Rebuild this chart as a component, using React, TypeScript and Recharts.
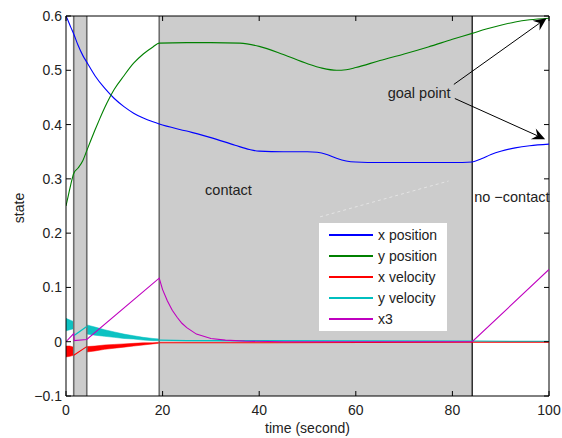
import {
  ComposedChart, Line, Area, XAxis, YAxis, ReferenceArea, ReferenceLine,
  ReferenceDot, Legend,
} from 'recharts'

const PLOT = { left: 66, right: 549, top: 16, bottom: 396 }
const FONT = '"Liberation Sans", Arial, Helvetica, sans-serif'

const xTicks = [0, 20, 40, 60, 80, 100]
const yTicks = [-0.1, 0, 0.1, 0.2, 0.3, 0.4, 0.5, 0.6]

// phase switch times (s)
const grayPhases = [[1.6, 4.3], [19.3, 84.1]]
const phaseEdges = [1.6, 4.3, 19.3]
const noContactStart = 84.1

const xPosition = [
  { t: 0, v: 0.6 }, { t: 0.5, v: 0.59 }, { t: 1, v: 0.579 }, { t: 1.6, v: 0.567 },
  { t: 2.5, v: 0.546 }, { t: 3.5, v: 0.527 }, { t: 4.3, v: 0.515 }, { t: 6, v: 0.49 },
  { t: 8, v: 0.467 }, { t: 10, v: 0.448 }, { t: 12, v: 0.433 }, { t: 14, v: 0.421 },
  { t: 16, v: 0.412 }, { t: 18, v: 0.405 }, { t: 19.3, v: 0.401 }, { t: 25, v: 0.388 },
  { t: 30, v: 0.376 }, { t: 35, v: 0.362 }, { t: 38, v: 0.354 }, { t: 40, v: 0.351 },
  { t: 45, v: 0.35 }, { t: 50, v: 0.35 }, { t: 52, v: 0.349 }, { t: 54, v: 0.345 },
  { t: 56, v: 0.338 }, { t: 58, v: 0.333 }, { t: 60, v: 0.331 }, { t: 65, v: 0.33 },
  { t: 70, v: 0.33 }, { t: 80, v: 0.33 }, { t: 84.1, v: 0.331 }, { t: 86, v: 0.337 },
  { t: 88, v: 0.345 }, { t: 90, v: 0.351 }, { t: 93, v: 0.357 }, { t: 96, v: 0.361 },
  { t: 100, v: 0.364 },
]

const yPosition = [
  { t: 0, v: 0.25 }, { t: 0.5, v: 0.27 }, { t: 1, v: 0.29 }, { t: 1.6, v: 0.31 },
  { t: 2.5, v: 0.32 }, { t: 3.5, v: 0.334 }, { t: 4.3, v: 0.352 }, { t: 5, v: 0.368 },
  { t: 6, v: 0.39 }, { t: 7, v: 0.411 }, { t: 8, v: 0.431 }, { t: 9, v: 0.449 },
  { t: 10, v: 0.465 }, { t: 12, v: 0.49 }, { t: 14, v: 0.513 }, { t: 16, v: 0.53 },
  { t: 18, v: 0.543 }, { t: 19.3, v: 0.55 }, { t: 25, v: 0.551 }, { t: 30, v: 0.551 },
  { t: 36, v: 0.55 }, { t: 40, v: 0.544 }, { t: 45, v: 0.529 }, { t: 50, v: 0.512 },
  { t: 53, v: 0.504 }, { t: 56, v: 0.5 }, { t: 58, v: 0.501 }, { t: 60, v: 0.505 },
  { t: 65, v: 0.518 }, { t: 70, v: 0.53 }, { t: 75, v: 0.543 }, { t: 80, v: 0.557 },
  { t: 84.1, v: 0.568 }, { t: 87, v: 0.576 }, { t: 90, v: 0.583 }, { t: 93, v: 0.589 },
  { t: 96, v: 0.593 }, { t: 100, v: 0.596 },
]

const xVelocity = [
  { t: 1.6, v: -0.025 }, { t: 4.3, v: -0.009 }, { t: 10, v: null },
  { t: 19.3, v: -0.002 }, { t: 40, v: -0.002 }, { t: 84.1, v: -0.001 }, { t: 100, v: -0.001 },
]
const xVelocityBand = [
  { t: 0, lo: -0.028, hi: -0.008 }, { t: 0.8, lo: -0.027, hi: -0.008 }, { t: 1.6, lo: -0.025, hi: -0.01 },
]
const xVelocityBand2 = [
  { t: 4.3, lo: -0.019, hi: -0.009 }, { t: 6, lo: -0.017, hi: -0.008 }, { t: 8, lo: -0.014, hi: -0.006 },
  { t: 10, lo: -0.012, hi: -0.005 }, { t: 12, lo: -0.01, hi: -0.004 }, { t: 14, lo: -0.008, hi: -0.003 },
  { t: 16, lo: -0.006, hi: -0.002 }, { t: 18, lo: -0.004, hi: -0.002 }, { t: 19.3, lo: -0.003, hi: -0.001 },
]

const yVelocity = [
  { t: 1.6, v: 0.011 }, { t: 4.3, v: 0.028 }, { t: 10, v: null },
  { t: 19.3, v: 0.003 }, { t: 25, v: 0.002 }, { t: 84.1, v: 0.001 }, { t: 100, v: 0.0005 },
]
const yVelocityBand = [
  { t: 0, lo: 0.02, hi: 0.043 }, { t: 0.8, lo: 0.022, hi: 0.04 }, { t: 1.6, lo: 0.024, hi: 0.037 },
]
const yVelocityBand2 = [
  { t: 4.3, lo: 0.014, hi: 0.031 }, { t: 6, lo: 0.012, hi: 0.027 }, { t: 8, lo: 0.01, hi: 0.022 },
  { t: 10, lo: 0.008, hi: 0.018 }, { t: 12, lo: 0.006, hi: 0.014 }, { t: 14, lo: 0.005, hi: 0.011 },
  { t: 16, lo: 0.003, hi: 0.008 }, { t: 18, lo: 0.002, hi: 0.006 }, { t: 19.3, lo: 0.002, hi: 0.005 },
]

const x3 = [
  { t: 0, v: 0 }, { t: 1.6, v: 0.015 }, { t: 1.7, v: 0.002 }, { t: 4.3, v: 0.004 },
  { t: 19.3, v: 0.117 }, { t: 20, v: 0.096 }, { t: 21, v: 0.075 }, { t: 22, v: 0.058 },
  { t: 23, v: 0.045 }, { t: 24, v: 0.034 }, { t: 25, v: 0.026 }, { t: 27, v: 0.014 },
  { t: 30, v: 0.006 }, { t: 33, v: 0.003 }, { t: 37, v: 0.001 }, { t: 45, v: 0 },
  { t: 84.1, v: 0 }, { t: 100, v: 0.133 },
]

const series = [
  { name: 'x position', color: '#0000ff' },
  { name: 'y position', color: '#008000' },
  { name: 'x velocity', color: '#ff0000' },
  { name: 'y velocity', color: '#00bfbf' },
  { name: 'x3', color: '#bf00bf' },
]

const goalArrows = [
  [{ x: 80.3, y: 0.474 }, { x: 99.5, y: 0.596 }],
  [{ x: 80.5, y: 0.448 }, { x: 99.2, y: 0.373 }],
]

const notes = [
  { text: 'contact', t: 28.8, v: 0.279 },
  { text: 'no \u2212contact', t: 84.5, v: 0.266 },
  { text: 'goal point', t: 66.6, v: 0.458 },
]

const fmtY = (v: number) => (v === 0 ? '0' : v < 0 ? `\u2212${Math.abs(v)}` : `${v}`)

function XTick({ x, payload }: any) {
  return (
    <g>
      <line x1={x} x2={x} y1={PLOT.bottom} y2={PLOT.bottom - 5} stroke="#000" />
      <line x1={x} x2={x} y1={PLOT.top} y2={PLOT.top + 5} stroke="#000" />
      <text x={x} y={PLOT.bottom + 14} textAnchor="middle" dominantBaseline="central"
        fontSize={14} fontFamily={FONT} fill="#222">{payload.value}</text>
    </g>
  )
}

function YTick({ y, payload }: any) {
  return (
    <g>
      <line x1={PLOT.left} x2={PLOT.left + 5} y1={y} y2={y} stroke="#000" />
      <line x1={PLOT.right} x2={PLOT.right - 5} y1={y} y2={y} stroke="#000" />
      <text x={PLOT.left - 4} y={y} textAnchor="end" dominantBaseline="central"
        fontSize={14} fontFamily={FONT} fill="#222">{fmtY(payload.value)}</text>
    </g>
  )
}

function Arrow({ x1, y1, x2, y2 }: any) {
  const a = Math.atan2(y2 - y1, x2 - x1)
  const dx = Math.cos(a), dy = Math.sin(a)
  const L = 13, W = 6
  const bx = x2 - L * dx, by = y2 - L * dy
  const nx = x2 - 0.65 * L * dx, ny = y2 - 0.65 * L * dy
  const pts = [
    [x2, y2], [bx - W * dy, by + W * dx], [nx, ny], [bx + W * dy, by - W * dx],
  ].map((p) => p.join(',')).join(' ')
  return (
    <g>
      <line x1={x1} y1={y1} x2={nx} y2={ny} stroke="#000" strokeWidth={1} />
      <polygon points={pts} fill="#000" />
    </g>
  )
}

function renderLegend() {
  return (
    <div style={{ background: '#fff', width: 128, height: 108, fontFamily: FONT, fontSize: 14, color: '#222', paddingTop: 1, boxSizing: 'border-box' }}>
      {series.map((s) => (
        <div key={s.name} style={{ display: 'flex', alignItems: 'center', height: 21 }}>
          <span style={{ display: 'inline-block', width: 44, height: 2, background: s.color, marginLeft: 10, marginRight: 5 }} />
          <span>{s.name}</span>
        </div>
      ))}
    </div>
  )
}

export default function App() {
  return (
    <div style={{ position: 'absolute', left: 0, top: 0, width: 562, height: 438 }}>
      <ComposedChart width={562} height={438} margin={{ top: PLOT.top, right: 562 - PLOT.right, bottom: 0, left: 0 }}>
        {grayPhases.map(([a, b]) => (
          <ReferenceArea key={a} x1={a} x2={b} fill="#cccccc" fillOpacity={1} stroke="none" />
        ))}
        {phaseEdges.map((t) => (
          <ReferenceLine key={t} x={t} stroke="#6e6e6e" strokeWidth={1.6} />
        ))}
        <ReferenceLine x={noContactStart} stroke="#000" strokeWidth={1.2} />
        <ReferenceLine segment={[{ x: 52.6, y: 0.23 }, { x: 79.2, y: 0.296 }]} stroke="#e4e4e4" strokeDasharray="3 3" />

        <XAxis dataKey="t" type="number" domain={[0, 100]} ticks={xTicks} height={438 - PLOT.bottom}
          axisLine={{ stroke: '#000' }} tickLine={false} tick={<XTick />} allowDataOverflow
          label={{
            content: () => (
              <text x={(PLOT.left + PLOT.right) / 2} y={PLOT.bottom + 32} textAnchor="middle" dominantBaseline="central"
                fontSize={14} fontFamily={FONT} fill="#222">time (second)</text>
            ),
          }} />
        <YAxis type="number" domain={[-0.1, 0.6]} ticks={yTicks} width={PLOT.left}
          axisLine={{ stroke: '#000' }} tickLine={false} tick={<YTick />} allowDataOverflow
          label={{
            content: () => (
              <text x={19} y={(PLOT.top + PLOT.bottom) / 2 + 2} textAnchor="middle" dominantBaseline="central"
                transform={`rotate(-90 19 ${(PLOT.top + PLOT.bottom) / 2 + 2})`}
                fontSize={14} fontFamily={FONT} fill="#222">state</text>
            ),
          }} />
        <ReferenceLine y={0.6} stroke="#000" />
        <ReferenceLine x={100} stroke="#000" />

        <Area data={yVelocityBand} dataKey={(d: any) => [d.lo, d.hi]} type="linear" fill="#00bfbf" fillOpacity={0.95} stroke="#00bfbf" strokeWidth={0.5} isAnimationActive={false} legendType="none" />
        <Area data={yVelocityBand2} dataKey={(d: any) => [d.lo, d.hi]} type="linear" fill="#00bfbf" fillOpacity={0.95} stroke="#00bfbf" strokeWidth={0.5} isAnimationActive={false} legendType="none" />
        <Area data={xVelocityBand} dataKey={(d: any) => [d.lo, d.hi]} type="linear" fill="#ff0000" fillOpacity={1} stroke="#ff0000" strokeWidth={0.5} isAnimationActive={false} legendType="none" />
        <Area data={xVelocityBand2} dataKey={(d: any) => [d.lo, d.hi]} type="linear" fill="#ff0000" fillOpacity={1} stroke="#ff0000" strokeWidth={0.5} isAnimationActive={false} legendType="none" />

        <Line data={yVelocity} dataKey="v" name="y velocity" type="linear" stroke="#00bfbf" strokeWidth={1.3} dot={false} isAnimationActive={false} />
        <Line data={xVelocity} dataKey="v" name="x velocity" type="linear" stroke="#ff0000" strokeWidth={1.1} dot={false} isAnimationActive={false} />
        <Line data={x3} dataKey="v" name="x3" type="linear" stroke="#bf00bf" strokeWidth={1.1} dot={false} isAnimationActive={false} />
        <Line data={xPosition} dataKey="v" name="x position" type="monotone" stroke="#0000ff" strokeWidth={1.1} dot={false} isAnimationActive={false} />
        <Line data={yPosition} dataKey="v" name="y position" type="monotone" stroke="#008000" strokeWidth={1.1} dot={false} isAnimationActive={false} />

        {goalArrows.map((seg, i) => (
          <ReferenceLine key={i} segment={seg} shape={(p: any) => <Arrow {...p} />} />
        ))}
        {notes.map((n) => (
          <ReferenceDot key={n.text} x={n.t} y={n.v} shape={(p: any) => (
            <text x={p.cx} y={p.cy} dominantBaseline="central" fontSize={14.5} fontFamily={FONT} fill="#222">{n.text}</text>
          )} />
        ))}

        <Legend content={renderLegend} layout="vertical" align="center" verticalAlign="middle"
          wrapperStyle={{ left: 319, top: 223, width: 128, height: 108 }} />
      </ComposedChart>
    </div>
  )
}
